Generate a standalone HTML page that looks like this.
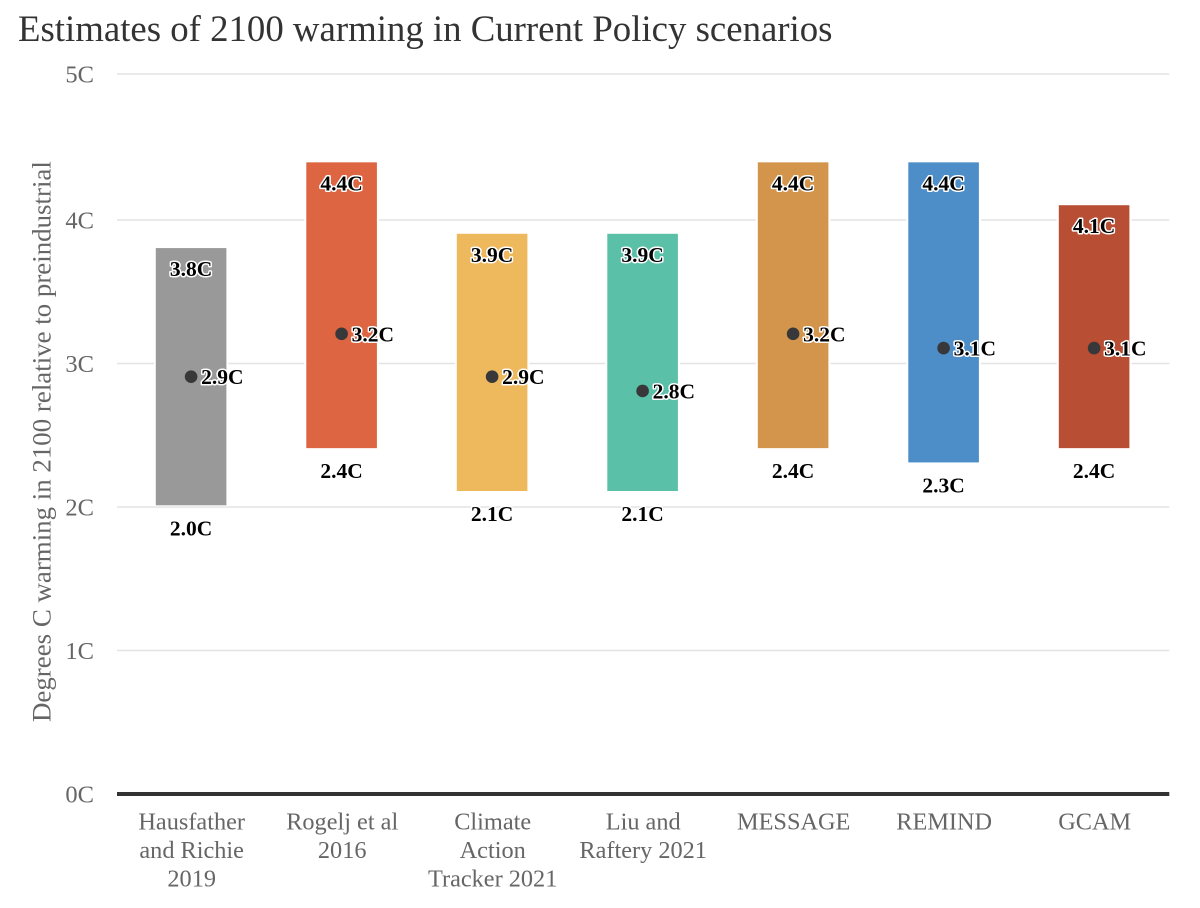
<!DOCTYPE html>
<html lang="en">
<head>
<meta charset="utf-8">
<title>Estimates of 2100 warming in Current Policy scenarios</title>
<style>
html,body{margin:0;padding:0;background:#fff;}
svg{display:block;font-family:"Liberation Serif",serif;}
</style>
</head>
<body>
<svg id="chart" xmlns="http://www.w3.org/2000/svg" width="1200" height="908" viewBox="0 0 1200 908">
  <text x="18" y="41" font-size="36.8" fill="#333">Estimates of 2100 warming in Current Policy scenarios</text>
  <text transform="translate(50.3,722) rotate(-90)" text-anchor="start" font-size="26.9" fill="#666">Degrees C warming in 2100 relative to preindustrial</text>
</svg>
<script>
const categories = [["Hausfather","and Richie","2019"],["Rogelj et al","2016"],["Climate","Action","Tracker 2021"],["Liu and","Raftery 2021"],["MESSAGE"],["REMIND"],["GCAM"]];
const lowValues = [2.0,2.4,2.1,2.1,2.4,2.3,2.4];
const highValues = [3.8,4.4,3.9,3.9,4.4,4.4,4.1];
const midValues = [2.9,3.2,2.9,2.8,3.2,3.1,3.1];
const barColors = ["#999999","#dd6541","#eeb95d","#5bc0a8","#d3954c","#4d8ec9","#b84e33"];
const yTicks = [0,1,2,3,4,5];

const svg = document.getElementById('chart');
const NS = 'http://www.w3.org/2000/svg';
const plotLeft = 117, plotRight = 1169.3, axisY = 794;
const barWidth = 70.6;
const firstCenter = 191.1, bandStep = 150.5;
/* marks sit on a slightly different scale from the printed axis in the source image */
const yScale = v => 791.1 - v * 142.9;
const tickScale = t => t <= 4 ? axisY - t * 143.5 : 220 - (t - 4) * 146;
const xScale = i => firstCenter + bandStep * i;
const fmt = v => v.toFixed(1) + 'C';

function make(tag, attrs, text) {
  const el = document.createElementNS(NS, tag);
  for (const k in attrs) el.setAttribute(k, attrs[k]);
  if (text !== undefined) el.textContent = text;
  svg.appendChild(el);
  return el;
}

yTicks.forEach(t => {
  const y = tickScale(t);
  if (t !== 0) {
    const grid = make('line', {x1: plotLeft, x2: plotRight, y1: y, y2: y, stroke: '#e3e3e3', 'stroke-width': 1.5});
    
    
  }
  const label = make('text', {x: 94, y: y + 8.7, 'text-anchor': 'end', 'font-size': 24.5, fill: '#666'}, t + 'C');
  
  
});

categories.forEach((lines, i) => {
  const cx = xScale(i);
  const top = yScale(highValues[i]);
  const bottom = yScale(lowValues[i]);
  const halo = make('rect', {x: cx - barWidth / 2 - 2, y: top - 1, width: barWidth + 4, height: bottom - top + 2, fill: '#fff'});
  
  
  const bar = make('rect', {x: cx - barWidth / 2, y: top, width: barWidth, height: bottom - top, fill: barColors[i]});
  
  
});

const axisLine = make('line', {x1: plotLeft, x2: plotRight, y1: axisY, y2: axisY, stroke: '#333', 'stroke-width': 4});



const labelStyle = {'font-size': 21.5, 'font-weight': 'bold', fill: '#000', stroke: '#fff', 'stroke-width': 3, 'stroke-linejoin': 'round', 'paint-order': 'stroke'};

categories.forEach((lines, i) => {
  const cx = xScale(i);
  const dot = make('circle', {cx: cx, cy: yScale(midValues[i]), r: 6.3, fill: '#38383a'});
  
  

  const midLabel = make('text', Object.assign({x: cx + 10, y: yScale(midValues[i]) + 7.5, 'text-anchor': 'start'}, labelStyle), fmt(midValues[i]));
  
  

  const highLabel = make('text', Object.assign({x: cx, y: yScale(highValues[i]) + 28, 'text-anchor': 'middle'}, labelStyle), fmt(highValues[i]));
  
  

  const lowLabel = make('text', Object.assign({x: cx, y: yScale(lowValues[i]) + 30, 'text-anchor': 'middle'}, labelStyle), fmt(lowValues[i]));
  
  

  lines.forEach((line, j) => {
    const cat = make('text', {x: cx + 0.6, y: 829.3 + j * 28.6, 'text-anchor': 'middle', 'font-size': 24.3, fill: '#666'}, line);
    
    
  });
});
</script>
</body>
</html>
